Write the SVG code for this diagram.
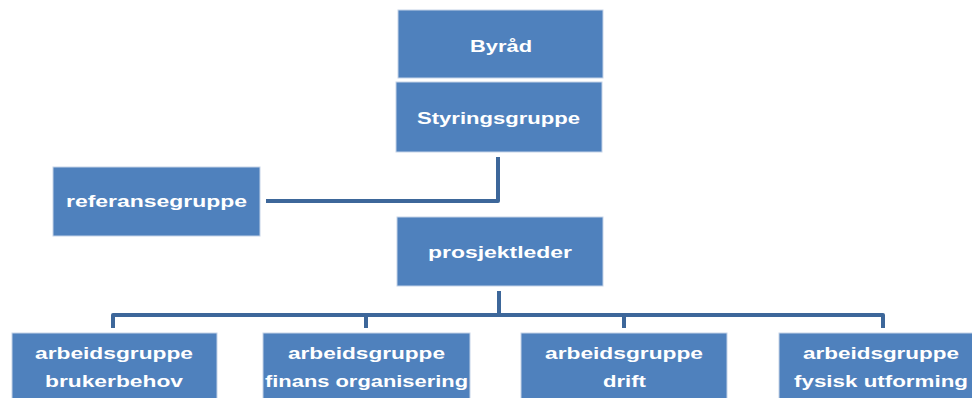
<svg xmlns="http://www.w3.org/2000/svg" width="972" height="398" viewBox="0 0 972 398">
<style>
.box{fill:#4f81bd;stroke:#c5d3e8;stroke-width:1}
.t{font-family:"Liberation Sans",Arial,sans-serif;font-weight:bold;font-size:16px;fill:#ffffff;text-anchor:middle}
.c{fill:none;stroke:#3d679a;stroke-width:4;stroke-linejoin:round}
</style>
<rect width="972" height="398" fill="#ffffff"/>
<g id="connectors">
<path class="c" d="M498 157 V201 H266"/>
<path class="c" d="M499 291 V315"/>
<path class="c" d="M113 328 V315 H883 V328"/>
<path class="c" d="M366 315 V328"/>
<path class="c" d="M624 315 V328"/>
</g>
<g id="byrad">
<rect class="box" x="398" y="10" width="205" height="68"/>
<text class="t" x="501" y="52" textLength="62" lengthAdjust="spacingAndGlyphs">Byråd</text>
</g>
<g id="styringsgruppe">
<rect class="box" x="396" y="82" width="206" height="70"/>
<text class="t" x="498.5" y="124" textLength="163" lengthAdjust="spacingAndGlyphs">Styringsgruppe</text>
</g>
<g id="referansegruppe">
<rect class="box" x="53" y="167" width="207" height="69"/>
<text class="t" x="156.5" y="207" textLength="181" lengthAdjust="spacingAndGlyphs">referansegruppe</text>
</g>
<g id="prosjektleder">
<rect class="box" x="397" y="217" width="206" height="69"/>
<text class="t" x="500" y="258" textLength="144" lengthAdjust="spacingAndGlyphs">prosjektleder</text>
</g>
<g id="ag-brukerbehov">
<rect class="box" x="12" y="333" width="205" height="70"/>
<text class="t" x="114" y="359" textLength="158" lengthAdjust="spacingAndGlyphs">arbeidsgruppe</text>
<text class="t" x="114" y="387" textLength="138" lengthAdjust="spacingAndGlyphs">brukerbehov</text>
</g>
<g id="ag-finans">
<rect class="box" x="263" y="333" width="207" height="70"/>
<text class="t" x="366.5" y="359" textLength="157" lengthAdjust="spacingAndGlyphs">arbeidsgruppe</text>
<text class="t" x="366.5" y="387" textLength="203" lengthAdjust="spacingAndGlyphs">finans organisering</text>
</g>
<g id="ag-drift">
<rect class="box" x="521" y="333" width="206" height="70"/>
<text class="t" x="624" y="359" textLength="158" lengthAdjust="spacingAndGlyphs">arbeidsgruppe</text>
<text class="t" x="624.5" y="387" textLength="43" lengthAdjust="spacingAndGlyphs">drift</text>
</g>
<g id="ag-fysisk">
<rect class="box" x="779" y="333" width="200" height="70"/>
<text class="t" x="881" y="359" textLength="156" lengthAdjust="spacingAndGlyphs">arbeidsgruppe</text>
<text class="t" x="881" y="387" textLength="174" lengthAdjust="spacingAndGlyphs">fysisk utforming</text>
</g>
</svg>
